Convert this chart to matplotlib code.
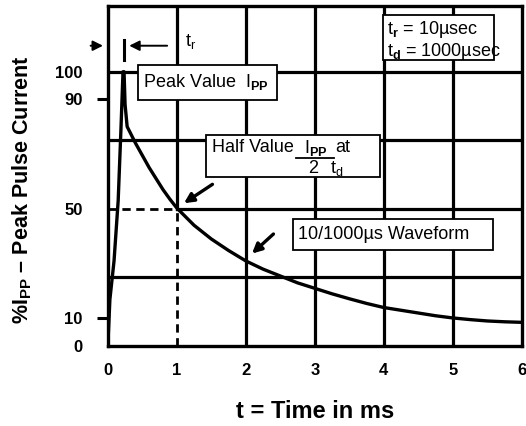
import matplotlib
matplotlib.use("Agg")
import matplotlib.pyplot as plt
from matplotlib.patches import Rectangle

plt.rcParams['font.family'] = ['Liberation Sans', 'DejaVu Sans']
plt.rcParams['mathtext.fontset'] = 'custom'
plt.rcParams['mathtext.rm'] = 'Liberation Sans'
plt.rcParams['mathtext.bf'] = 'Liberation Sans:bold'
plt.rcParams['mathtext.it'] = 'Liberation Sans:italic'

# ---- data ----
t_ms = [0, 0.03, 0.09, 0.15, 0.19, 0.22, 0.235, 0.25, 0.28, 0.4, 0.5, 0.6, 0.7,
        0.8, 0.9, 1.0, 1.25, 1.5, 1.75, 2.0, 2.25, 2.5, 2.75, 3.0, 3.25, 3.5,
        3.75, 4.0, 4.25, 4.5, 4.75, 5.0, 5.25, 5.5, 5.75, 6.0]
i_pct = [0, 17, 31, 53, 79, 100, 100, 88, 80, 74, 69.5, 65, 61,
         57, 53.5, 50.3, 44, 39, 34.8, 31, 28, 25.5, 23, 21, 19, 17.2,
         15.5, 14, 13, 12, 11, 10.2, 9.6, 9.1, 8.8, 8.6]
x_ticks = [0, 1, 2, 3, 4, 5, 6]
y_major = [0, 50, 100]
y_minor = [10, 90]
grid_x = [2, 3, 4, 5]
grid_y = [25, 75, 100]
half_t = 1.0
half_val = 50

fig = plt.figure(figsize=(5.26, 4.26), dpi=100)
ax = fig.add_axes([0.205, 0.188, 0.787, 0.798])
ax.set_xlim(0, 6)
ax.set_ylim(0, 124)

lw = 2.3
for gx in grid_x:
    ax.axvline(gx, color='black', lw=lw, zorder=1)
for gy in grid_y:
    ax.axhline(gy, color='black', lw=lw, zorder=1)
# partly dashed gridlines at half value
ax.plot([half_t, half_t], [half_val, 124], color='black', lw=lw, zorder=1)
ax.plot([half_t, 6], [half_val, half_val], color='black', lw=lw, zorder=1)
ax.plot([half_t, half_t], [0, half_val], color='black', lw=2.0, ls=(0, (3, 2)), zorder=1)
ax.plot([0, half_t], [half_val, half_val], color='black', lw=2.0, ls=(0, (3, 2)), zorder=1)

ax.plot(t_ms, i_pct, color='black', lw=2.4, zorder=3, solid_joinstyle='round')

for s in ax.spines.values():
    s.set_linewidth(2.4)

ax.set_xticks(x_ticks)
ax.set_xticklabels([str(v) for v in x_ticks], fontsize=12, fontweight='bold')
ax.tick_params(axis='x', length=0, pad=12)
ax.set_yticks(y_major)
ax.set_yticklabels([str(v) for v in y_major], fontsize=12, fontweight='bold')
ax.tick_params(axis='y', which='major', length=0, pad=18)
ax.set_yticks(y_minor, minor=True)
ax.set_yticklabels([str(v) for v in y_minor], minor=True, fontsize=12, fontweight='bold')
ax.tick_params(axis='y', which='minor', length=8, width=2.2, pad=10, direction='out')

fig.text(0.042, 0.554, r'%I$_{\mathbf{PP}}$ – Peak Pulse Current', rotation=90,
         ha='center', va='center', fontsize=15.5, fontweight='bold')
fig.text(0.599, 0.035, 't = Time in ms', ha='center', va='center',
         fontsize=17, fontweight='bold')

# ---- annotations ----
fs = 13
def box(x0, y0, x1, y1):
    ax.add_patch(Rectangle((x0, y0), x1 - x0, y1 - y0, facecolor='white',
                           edgecolor='black', lw=1.3, zorder=5))

# t_r markers
ax.annotate('', xy=(-0.03, 109.5), xytext=(-0.29, 109.5), annotation_clip=False,
            arrowprops=dict(arrowstyle='-|>', color='black', lw=1.4, mutation_scale=15))
ax.annotate('', xy=(0.27, 109.5), xytext=(0.90, 109.5),
            arrowprops=dict(arrowstyle='-|>', color='black', lw=1.4, mutation_scale=15))
ax.plot([0.23, 0.23], [104.4, 111.7], color='black', lw=2.2, zorder=4)
ax.text(1.12, 111, r't$_\mathregular{r}$', fontsize=fs, ha='left', va='center', zorder=6)

# peak value
box(0.435, 89.8, 2.45, 102.6)
ax.text(0.51, 96.2, r'Peak Value  I$_{\mathbf{PP}}$', fontsize=fs, ha='left', va='center', zorder=6)

# half value
box(1.43, 61.7, 3.94, 77)
ax.text(1.51, 72.3, 'Half Value', fontsize=fs, ha='left', va='center', zorder=6)
ax.text(3.02, 72.3, r'I$_{\mathbf{PP}}$', fontsize=fs, ha='center', va='center', zorder=6)
ax.plot([2.73, 3.28], [68.4, 68.4], color='black', lw=1.3, zorder=6)
ax.text(3.3, 72.3, 'at', fontsize=fs, ha='left', va='center', zorder=6)
ax.text(2.97, 64.8, '2', fontsize=fs, ha='center', va='center', zorder=6)
ax.text(3.22, 64.8, r't$_\mathregular{d}$', fontsize=fs, ha='left', va='center', zorder=6)
ax.annotate('', xy=(1.07, 51.5), xytext=(1.55, 59.5),
            arrowprops=dict(arrowstyle='-|>', color='black', lw=2.4, mutation_scale=14))

# waveform label
box(2.68, 35, 5.58, 46.4)
ax.text(2.75, 40.8, '10/1000µs Waveform', fontsize=fs, ha='left', va='center', zorder=6)
ax.annotate('', xy=(2.06, 33), xytext=(2.43, 41.5),
            arrowprops=dict(arrowstyle='-|>', color='black', lw=2.4, mutation_scale=14))

# parameter box
box(3.99, 104.4, 5.6, 120.8)
ax.text(4.04, 115.3, r't$_\mathbf{r}$ = 10µsec', fontsize=fs, ha='left', va='center', zorder=6)
ax.text(4.04, 107.5, r't$_\mathbf{d}$ = 1000µsec', fontsize=fs, ha='left', va='center', zorder=6)

fig.savefig('out.png', dpi=100)
